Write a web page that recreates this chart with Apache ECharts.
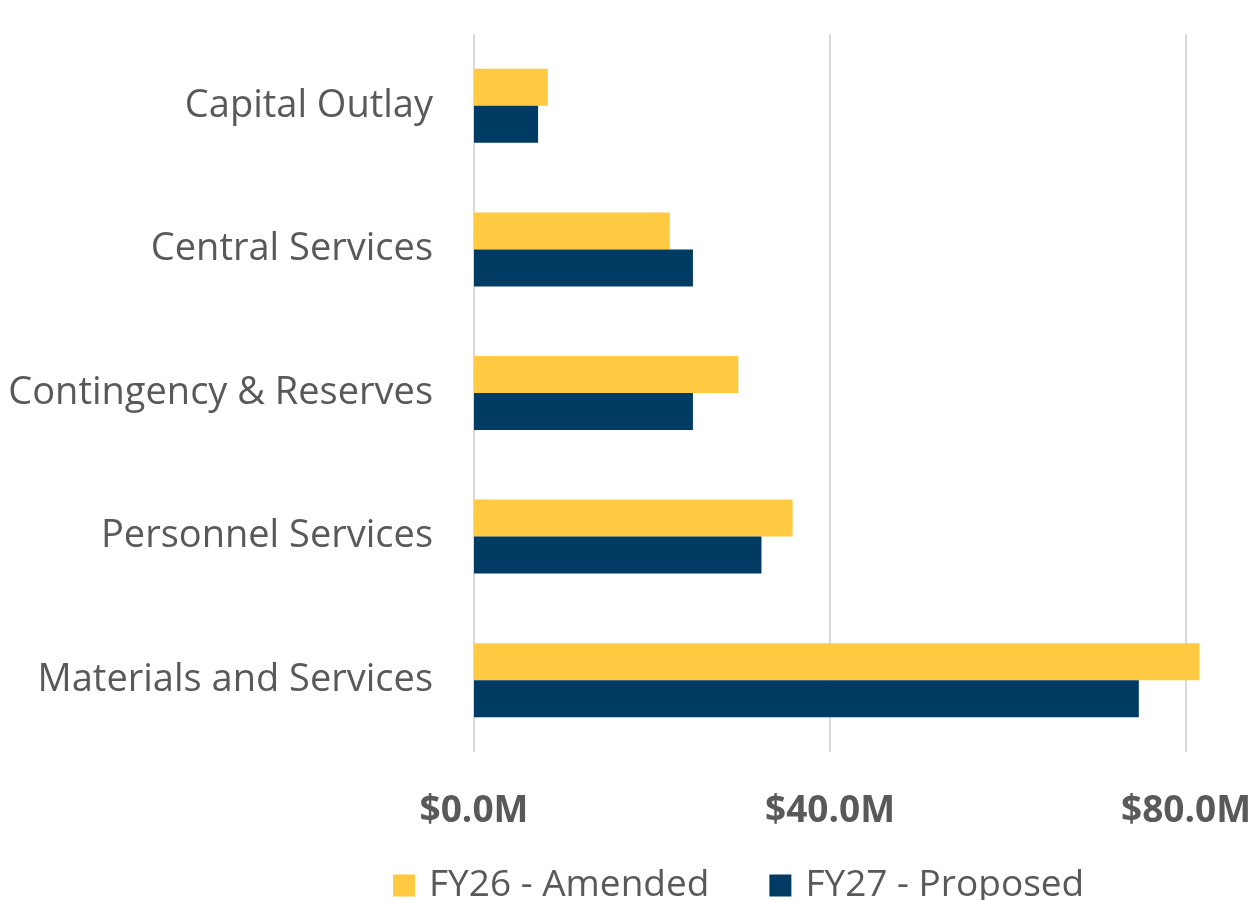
<!DOCTYPE html>
<html>
<head>
<meta charset="utf-8">
<script src="https://cdn.jsdelivr.net/npm/echarts@6/dist/echarts.min.js"></script>
<style>
  html, body { margin: 0; padding: 0; background: #fff; }
  #main { width: 1258px; height: 900px; }
</style>
</head>
<body>
<div id="main"></div>
<script>
var categories = ['Capital Outlay', 'Central Services', 'Contingency & Reserves', 'Personnel Services', 'Materials and Services'];
var fy26Amended = [8.3, 22.0, 29.7, 35.8, 81.5];
var fy27Proposed = [7.2, 24.6, 24.6, 32.3, 74.7];
var tickValues = [0, 40, 80];

var myChart = echarts.init(document.getElementById('main'));

var font = '"Open Sans", "Noto Sans", sans-serif';

var option = {
    animation: false,
    textStyle: {fontFamily: font},
    grid: {left: 474, right: 72, top: 34, bottom: 148},
    legend: {
        left: 388,
        top: 862,
        icon: 'rect',
        itemWidth: 22,
        itemHeight: 22,
        itemGap: 60,
        textStyle: {fontSize: 37, color: '#595959', fontFamily: font, padding: [0, 0, 0, 9]},
        data: ['FY26 - Amended', 'FY27 - Proposed']
    },
    xAxis: {
        type: 'value',
        min: tickValues[0],
        max: tickValues[tickValues.length - 1],
        interval: 40,
        axisLine: {show: false},
        axisTick: {show: false},
        splitLine: {lineStyle: {color: '#d9d9d9', width: 2}},
        axisLabel: {
            margin: 41,
            fontSize: 37,
            fontWeight: 'bold',
            color: '#595959',
            fontFamily: font,
            formatter: function (v) { return '$' + v.toFixed(1) + 'M'; }
        }
    },
    yAxis: {
        type: 'category',
        inverse: true,
        data: categories,
        axisLine: {show: false},
        axisTick: {show: false},
        axisLabel: {margin: 41, fontSize: 38, color: '#595959', fontFamily: font}
    },
    series: [
        {
            name: 'FY26 - Amended',
            type: 'bar',
            barWidth: 37,
            barGap: '0%',
            clip: false,
            itemStyle: {color: '#FFC942'},
            data: fy26Amended
        },
        {
            name: 'FY27 - Proposed',
            type: 'bar',
            barWidth: 37,
            barGap: '0%',
            clip: false,
            itemStyle: {color: '#003B64'},
            data: fy27Proposed
        }
    ]
};
myChart.setOption(option);
</script>
</body>
</html>
